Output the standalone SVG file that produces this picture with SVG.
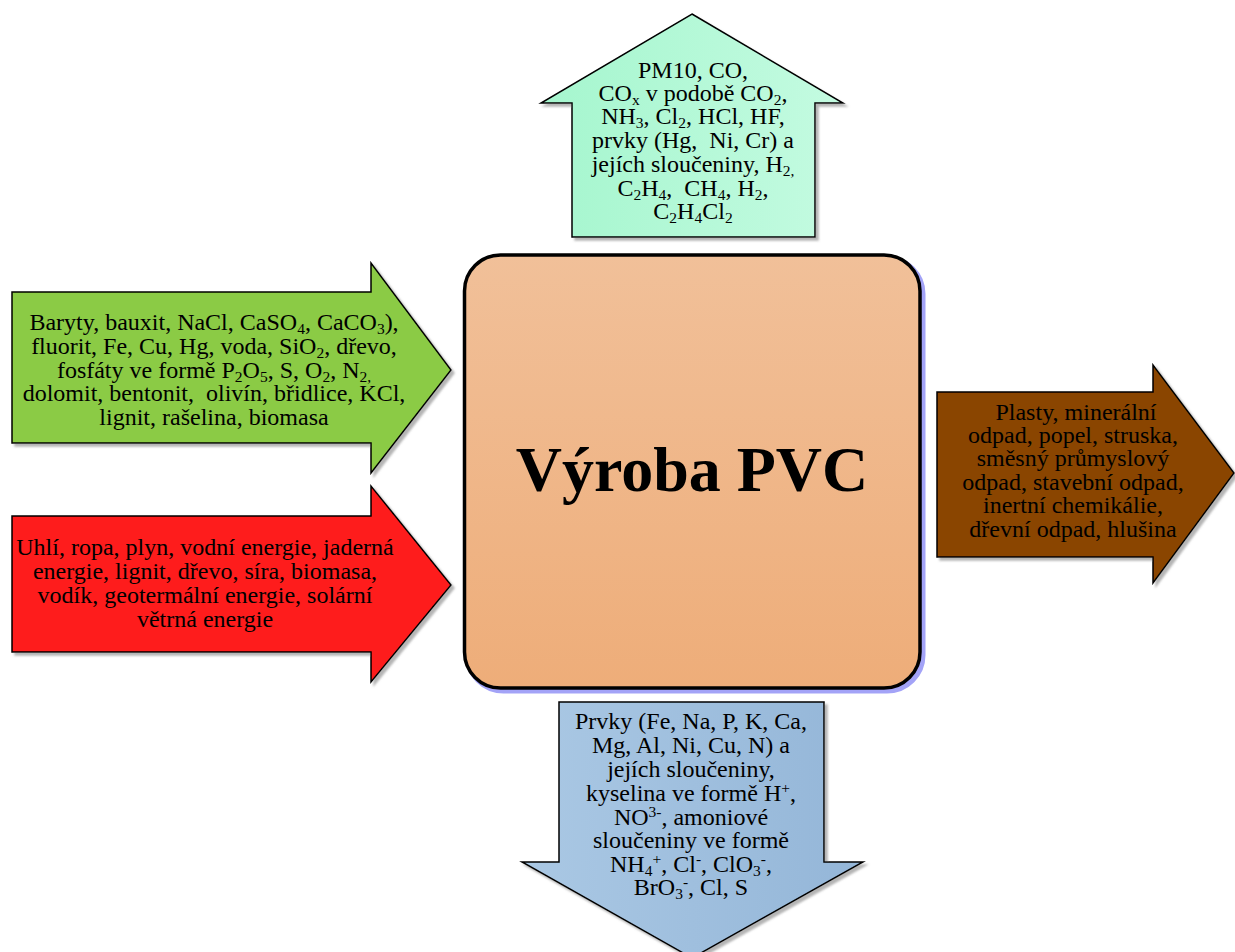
<svg xmlns="http://www.w3.org/2000/svg" width="1235" height="952" viewBox="0 0 1235 952">
  <style>
    text { font-family: "Liberation Serif", "Times New Roman", serif; fill: #000; }
    .lbl { font-size: 24px; text-anchor: middle; white-space: pre; }
    .title { font-size: 64px; font-weight: bold; text-anchor: middle; }
    .sb { font-size: 15.5px; baseline-shift: -4px; }
    .sp { font-size: 15.5px; baseline-shift: 8px; }
    .arrow { stroke: #000; stroke-width: 1.5; stroke-linejoin: miter; filter: url(#shade); }
  </style>
  <defs>
    <filter id="shade" x="-10%" y="-10%" width="130%" height="130%">
      <feDropShadow dx="3" dy="3" stdDeviation="1.2" flood-color="#777" flood-opacity="0.55"/>
    </filter>
    <linearGradient id="mint" x1="0" y1="0" x2="1" y2="0">
      <stop offset="0" stop-color="#A5F6CE"/>
      <stop offset="1" stop-color="#C4FBE1"/>
    </linearGradient>
    <linearGradient id="sky" x1="0" y1="0" x2="1" y2="0">
      <stop offset="0" stop-color="#AAC8E4"/>
      <stop offset="1" stop-color="#94B6D8"/>
    </linearGradient>
    <linearGradient id="peach" x1="0" y1="0" x2="0" y2="1">
      <stop offset="0" stop-color="#F1C099"/>
      <stop offset="1" stop-color="#EEAD79"/>
    </linearGradient>
  </defs>

  <!-- central process block -->
  <g id="node-vyroba">
    <rect x="467.5" y="258" width="455.5" height="433" rx="36" fill="#A3A3F7" stroke="#A3A3F7" stroke-width="5"/>
    <rect x="464.5" y="255" width="455.5" height="433" rx="36" fill="url(#peach)" stroke="#000" stroke-width="3.5"/>
    <text class="title" x="692" y="491">Výroba PVC</text>
  </g>

  <!-- flows in and out of the process -->
  <g id="connectors">
    <g id="out-air">
      <path class="arrow" d="M692,14 L843,103 L815,103 L815,237 L572,237 L572,103 L541,103 Z" fill="url(#mint)"/>
      <text class="lbl" x="693" y="78">PM10, CO,</text>
      <text class="lbl" x="693" y="101">CO<tspan class="sb">x</tspan> v podobě CO<tspan class="sb">2</tspan>,</text>
      <text class="lbl" x="693" y="124">NH<tspan class="sb">3</tspan>, Cl<tspan class="sb">2</tspan>, HCl, HF,</text>
      <text class="lbl" x="693" y="148">prvky (Hg,  Ni, Cr) a</text>
      <text class="lbl" x="693" y="172">jejích sloučeniny, H<tspan class="sb">2,</tspan></text>
      <text class="lbl" x="693" y="196">C<tspan class="sb">2</tspan>H<tspan class="sb">4</tspan>,  CH<tspan class="sb">4</tspan>, H<tspan class="sb">2</tspan>,</text>
      <text class="lbl" x="693" y="219">C<tspan class="sb">2</tspan>H<tspan class="sb">4</tspan>Cl<tspan class="sb">2</tspan></text>
    </g>

    <g id="in-materials">
      <path class="arrow" d="M12,292 L371,292 L371,263 L451,370 L371,473 L371,443 L12,443 Z" fill="#8BCB44"/>
      <text class="lbl" x="214" y="330">Baryty, bauxit, NaCl, CaSO<tspan class="sb">4</tspan>, CaCO<tspan class="sb">3</tspan>),</text>
      <text class="lbl" x="214" y="354">fluorit, Fe, Cu, Hg, voda, SiO<tspan class="sb">2</tspan>, dřevo,</text>
      <text class="lbl" x="214" y="378">fosfáty ve formě P<tspan class="sb">2</tspan>O<tspan class="sb">5</tspan>, S, O<tspan class="sb">2</tspan>, N<tspan class="sb">2,</tspan></text>
      <text class="lbl" x="214" y="401">dolomit, bentonit,  olivín, břidlice, KCl,</text>
      <text class="lbl" x="214" y="425">lignit, rašelina, biomasa</text>
    </g>

    <g id="in-energy">
      <path class="arrow" d="M12,516 L371,516 L371,486 L451,585 L371,682 L371,652 L12,652 Z" fill="#FE1B1B"/>
      <text class="lbl" x="205" y="555">Uhlí, ropa, plyn, vodní energie, jaderná</text>
      <text class="lbl" x="205" y="579">energie, lignit, dřevo, síra, biomasa,</text>
      <text class="lbl" x="205" y="603">vodík, geotermální energie, solární</text>
      <text class="lbl" x="205" y="627">větrná energie</text>
    </g>

    <g id="out-waste">
      <path class="arrow" d="M937,392 L1153,392 L1153,365 L1234,473 L1153,583 L1153,557 L937,557 Z" fill="#8A4500"/>
      <text class="lbl" x="1073" y="420"> Plasty, minerální</text>
      <text class="lbl" x="1073" y="443">odpad, popel, struska,</text>
      <text class="lbl" x="1073" y="466">směsný průmyslový</text>
      <text class="lbl" x="1073" y="490">odpad, stavební odpad,</text>
      <text class="lbl" x="1073" y="513">inertní chemikálie,</text>
      <text class="lbl" x="1073" y="537">dřevní odpad, hlušina</text>
    </g>

    <g id="out-water">
      <path class="arrow" d="M559,702 L824,702 L824,862 L863,862 L692,958 L522,862 L559,862 Z" fill="url(#sky)"/>
      <text class="lbl" x="691" y="729">Prvky (Fe, Na, P, K, Ca,</text>
      <text class="lbl" x="691" y="753">Mg, Al, Ni, Cu, N) a</text>
      <text class="lbl" x="691" y="777">jejích sloučeniny,</text>
      <text class="lbl" x="691" y="801">kyselina ve formě H<tspan class="sp">+</tspan>,</text>
      <text class="lbl" x="691" y="825">NO<tspan class="sp">3-</tspan>, amoniové</text>
      <text class="lbl" x="691" y="848">sloučeniny ve formě</text>
      <text class="lbl" x="691" y="872">NH<tspan class="sb">4</tspan><tspan class="sp">+</tspan>, Cl<tspan class="sp">-</tspan>, ClO<tspan class="sb">3</tspan><tspan class="sp">-</tspan>,</text>
      <text class="lbl" x="691" y="895">BrO<tspan class="sb">3</tspan><tspan class="sp">-</tspan>, Cl, S</text>
    </g>
  </g>
</svg>
